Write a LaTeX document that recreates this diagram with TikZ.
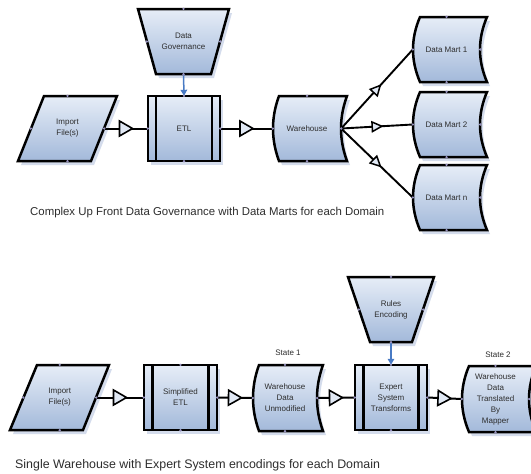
\documentclass[tikz,border=0pt]{standalone}
\usepackage{fontspec}
\setmainfont{Liberation Sans}
\usetikzlibrary{decorations.markings,arrows.meta,calc}
\definecolor{shtop}{RGB}{230,237,247}
\definecolor{shbot}{RGB}{163,185,218}
\definecolor{shadowc}{RGB}{212,220,236}
\definecolor{dotc}{RGB}{150,145,190}
\definecolor{govblue}{RGB}{72,122,196}
\definecolor{txt}{RGB}{45,45,45}
\definecolor{tri}{RGB}{225,233,245}
\tikzset{
  shp/.style={draw=black, line width=2.5pt, line join=miter, top color=shtop, bottom color=shbot},
  shd/.style={fill=shadowc, draw=none},
  lbl/.style={inner sep=0pt, font=\fontsize{8}{11}\selectfont, text=txt, align=center},
  captext/.style={inner sep=0pt, anchor=west, text=txt},
  flow/.style={line width=2pt, postaction={decorate},
    decoration={markings, mark=at position 0.5 with {\draw[line width=1.6pt, line join=miter, fill=tri] (-6.5,-7.5) -- (6.5,0) -- (-6.5,7.5) -- cycle;}}},
  flowsmall/.style={line width=1.9pt, postaction={decorate},
    decoration={markings, mark=at position 0.5 with {\draw[line width=1.5pt, line join=miter, fill=tri] (-4.8,-4.8) -- (4.8,0) -- (-4.8,4.8) -- cycle;}}},
  govarrow/.style={draw=govblue, line width=1.5pt, -{Triangle[length=6pt,width=6.5pt]}}
}
% stored data shape: xL yT xR yB bulge options
\newcommand{\stpath}[6]{\path[#6] ({#1+#5},#2) -- (#3,#2) .. controls ({#3-4*#5/3},{#2+(#4-#2)/3}) and ({#3-4*#5/3},{#4-(#4-#2)/3}) .. (#3,#4) -- ({#1+#5},#4) .. controls ({#1-#5/3},{#4-(#4-#2)/3}) and ({#1-#5/3},{#2+(#4-#2)/3}) .. cycle;}
\newcommand{\storedshape}[5]{\stpath{#1}{#2}{#3}{#4}{#5}{shd,shift={(3,4)}}\stpath{#1}{#2}{#3}{#4}{#5}{shp}}
% quadrilateral: four corners
\newcommand{\quadshape}[4]{\fill[shd,shift={(3,4)}] #1 -- #2 -- #3 -- #4 -- cycle; \path[shp] #1 -- #2 -- #3 -- #4 -- cycle;}
% predefined process: x1 y1 x2 y2 offset
\newcommand{\predef}[5]{\fill[shd] ({#1+3},{#2+4}) rectangle ({#3+3},{#4+4}); \path[shp] (#1,#2) rectangle (#3,#4); \draw[line width=2.5pt] ({#1+#5},#2) -- ({#1+#5},#4) ({#3-#5},#2) -- ({#3-#5},#4);}
\newcommand{\cpdots}[1]{\foreach \aa in {north,south,east,west} {\fill[dotc] (#1.\aa) circle (1.3);}}
\begin{document}
\begin{tikzpicture}[x=1pt,y=-1pt]
\useasboundingbox (0,0) rectangle (531,474);
\clip (0,0) rectangle (531,474);
\fill[white] (0,0) rectangle (531,474);

% ---------- top row ----------
\quadshape{(138,9)}{(229,9)}{(211,74)}{(156,74)}
\node[lbl, minimum width=73, minimum height=65] (dg) at (183.5,41.5) {Data\\Governance};

\quadshape{(44,96)}{(117,96)}{(91,161)}{(18,161)}
\node[lbl, minimum width=73, minimum height=65] (imp1) at (67.5,128.5) {Import\\File(s)};

\predef{148}{96}{220}{161}{8}
\node[lbl, minimum width=72, minimum height=65] (etl) at (184,128.5) {ETL};

\storedshape{273}{96}{347}{161}{6}
\node[lbl, minimum width=68, minimum height=65] (wh) at (307,128.5) {Warehouse};

\storedshape{413}{17}{487}{82}{7}
\node[lbl, minimum width=67, minimum height=65] (dm1) at (446.5,49.5) {Data Mart 1};
\storedshape{413}{92}{487}{157}{7}
\node[lbl, minimum width=67, minimum height=65] (dm2) at (446.5,124.5) {Data Mart 2};
\storedshape{413}{165}{487}{230}{7}
\node[lbl, minimum width=67, minimum height=65] (dmn) at (446.5,197.5) {Data Mart n};

\draw[govarrow] (dg.south) -- (etl.north);
\draw[flow] (imp1.east) -- (etl.west);
\draw[flow] (etl.east) -- (wh.west);
\draw[flowsmall] (wh.east) -- (dm1.west);
\draw[flowsmall] (wh.east) -- (dm2.west);
\draw[flowsmall] (wh.east) -- (dmn.west);

\node[captext, font=\fontsize{11.4}{14}\selectfont] (cap1) at (30,213) {Complex Up Front Data Governance with Data Marts for each Domain};

% ---------- bottom row ----------
\quadshape{(348,277)}{(434,277)}{(412,342)}{(370,342)}
\node[lbl, minimum width=64, minimum height=65] (re) at (391,309.5) {Rules\\Encoding};

\quadshape{(37,365)}{(109,365)}{(83,430)}{(10,430)}
\node[lbl, minimum width=72.5, minimum height=65] (imp2) at (59.75,397.5) {Import\\File(s)};

\predef{144}{365}{217}{430}{8.5}
\node[lbl, minimum width=73, minimum height=65] (setl) at (180.5,397.5) {Simplified\\ETL};

\storedshape{253}{365}{323}{431}{6}
\node[lbl, minimum width=64, minimum height=66] (wdu) at (285,398) {Warehouse\\Data\\Unmodified};
\node[lbl] (st1) at (288,353) {State 1};

\predef{355}{365}{427}{430}{8.5}
\node[lbl, minimum width=72, minimum height=65] (est) at (391,397.5) {Expert\\System\\Transforms};

\storedshape{462}{366}{536}{432}{7}
\node[lbl, minimum width=67, minimum height=66] (wdt) at (495.5,399) {Warehouse\\Data\\Translated\\By\\Mapper};
\node[lbl] (st2) at (498,355) {State 2};

\draw[govarrow] (re.south) -- (est.north);
\draw[flow] (imp2.east) -- (setl.west);
\draw[flow] (setl.east) -- (wdu.west);
\draw[flow] (wdu.east) -- (est.west);
\draw[flow] (est.east) -- (wdt.west);

\node[captext, font=\fontsize{12.4}{14}\selectfont] (cap2) at (15,465) {Single Warehouse with Expert System encodings for each Domain};

% connection points
\foreach \nn in {dg,imp1,etl,wh,dm1,dm2,dmn,re,imp2,setl,wdu,est,wdt} {\cpdots{\nn}}
\end{tikzpicture}
\end{document}
